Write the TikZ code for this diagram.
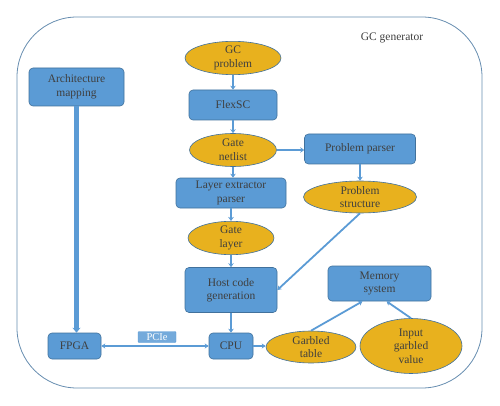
\documentclass[tikz,border=0pt]{standalone}
\usepackage{fontspec}
\setmainfont{Liberation Serif}
\usetikzlibrary{shapes.geometric,arrows.meta}
\definecolor{boxblue}{HTML}{5B9BD5}
\definecolor{boxedge}{HTML}{41719C}
\definecolor{ovalgold}{HTML}{E8B11E}
\definecolor{txtgray}{HTML}{3F3F3F}

\begin{document}
\begin{tikzpicture}[x=1pt, y=-1pt,
	every node/.style={font=\fontsize{11.5}{13.5}\selectfont, text=txtgray, align=center},
	blockbox/.style={draw=boxedge, fill=boxblue, rounded corners=4pt, line width=0.6pt, inner sep=2pt},
	ovalbox/.style={ellipse, draw=boxedge, fill=ovalgold, line width=0.6pt, inner sep=0pt},
	flow/.style={draw=boxblue, line width=2.6pt, -{Stealth[length=4pt, width=5.5pt]}},
	thinflow/.style={draw=boxblue, line width=1.8pt, -{Stealth[length=4pt, width=5pt]}}]
	\useasboundingbox (0,0) rectangle (500,406);
	% outer frame
	\draw[color=boxedge!80, line width=0.8pt, rounded corners=60pt] (17,17) rectangle (482,388);
	\node (title) at (392,38) {GC generator};
	% left column
	\node[blockbox, minimum width=95pt, minimum height=38pt] (arch) at (76.5,87) {Architecture\\mapping};
	\node[blockbox, minimum width=53pt, minimum height=26pt] (fpga) at (74.5,346) {FPGA};
	% middle column
	\node[ovalbox, minimum width=96pt, minimum height=30pt] (gcprob) at (233,58) {GC\\problem};
	\node[blockbox, minimum width=88pt, minimum height=30pt] (flexsc) at (233,105) {FlexSC};
	\node[ovalbox, minimum width=87pt, minimum height=33pt] (netlist) at (233,150) {Gate\\netlist};
	\node[blockbox, minimum width=110pt, minimum height=30pt] (layer) at (231,193) {Layer extractor\\parser};
	\node[ovalbox, minimum width=86pt, minimum height=31pt] (glayer) at (231,238) {Gate\\layer};
	\node[blockbox, minimum width=92pt, minimum height=45pt] (host) at (231,290) {Host code\\generation};
	\node[blockbox, minimum width=44pt, minimum height=26pt] (cpu) at (231,346) {CPU};
	\node[fill=boxblue!85, draw=boxblue, rounded corners=1pt, text=white, inner sep=0pt,
		minimum width=38pt, minimum height=11pt, font=\fontsize{10.5}{10.5}\selectfont] (pcie) at (157,337) {PCIe};
	% right column
	\node[blockbox, minimum width=111pt, minimum height=30pt] (pparser) at (360,149) {Problem parser};
	\node[ovalbox, minimum width=113pt, minimum height=32pt] (pstruct) at (360,197) {Problem\\structure};
	\node[blockbox, minimum width=103pt, minimum height=35pt] (mem) at (379.5,283.5) {Memory\\system};
	\node[ovalbox, minimum width=90pt, minimum height=32pt] (gtable) at (311,347) {Garbled\\table};
	\node[ovalbox, minimum width=102pt, minimum height=55pt] (ingv) at (411,346) {Input\\garbled\\value};
	% connectors
	\draw[flow] (gcprob) -- (flexsc);
	\draw[flow] (flexsc) -- (netlist);
	\draw[flow] (netlist) -- (netlist |- layer.north);
	\draw[flow] (netlist.east) -- (netlist.east -| pparser.west);
	\draw[flow] (pparser) -- (pstruct);
	\draw[flow] (layer) -- (glayer);
	\draw[flow] (glayer) -- (host);
	\draw[thinflow] (pstruct.south) -- (host.east);
	\draw[flow] (host) -- (cpu);
	\draw[draw=boxblue, line width=4.5pt, -{Stealth[length=5pt, width=8pt]}] (arch.south) -- (arch.south |- fpga.north);
	\draw[thinflow, {Stealth[length=4pt, width=5pt]}-{Stealth[length=4pt, width=5pt]}] (fpga.east) -- (fpga.east -| cpu.west);
	\draw[thinflow] (cpu.east) -- (cpu.east -| gtable.west);
	\draw[thinflow] (gtable.north) -- ([xshift=-17pt]mem.south);
	\draw[thinflow] (ingv.north) -- ([xshift=7pt]mem.south);
\end{tikzpicture}
\end{document}
